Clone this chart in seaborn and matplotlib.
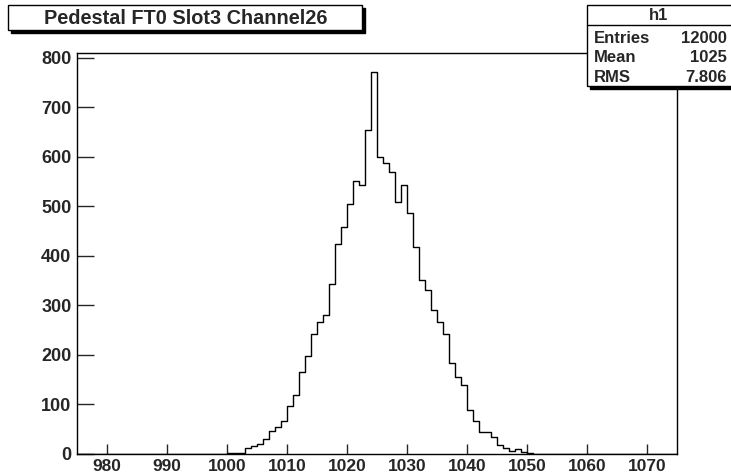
import numpy as np
import pandas as pd
import matplotlib
matplotlib.use("Agg")
import matplotlib.pyplot as plt
from matplotlib.patches import Rectangle
from matplotlib.ticker import MultipleLocator
import seaborn as sns

# pedestal histogram h1, 1 ADC count per bin
adc = list(range(996, 1051)) + [1057]
counts = [1, 0, 1, 1, 2, 3, 3, 13, 17, 20,
          30, 46, 55, 67, 96, 120, 166, 197, 242, 266,
          281, 344, 424, 459, 504, 551, 543, 654, 771, 599,
          587, 569, 508, 543, 486, 417, 351, 332, 291, 267,
          242, 184, 156, 139, 89, 66, 44, 44, 34, 18,
          12, 7, 11, 5, 2, 1]
x_lo, x_hi = 975, 1075
title = "Pedestal FT0 Slot3 Channel26"
stat_names = ["Entries", "Mean", "RMS"]
stat_values = ["12000", "1025", "7.806"]

df = pd.DataFrame({"adc": adc, "n": counts})

sns.set_style("white")
plt.rcParams["font.family"] = ["Liberation Sans", "DejaVu Sans"]
plt.rcParams["font.weight"] = "bold"

W, H = 731, 475
fig = plt.figure(figsize=(W / 100, H / 100), dpi=100)
ax = fig.add_axes([77 / W, 1 - 454 / H, 600 / W, (454 - 53) / H])

# bins must be a list here, seaborn compares it with "auto"
edges = list(range(x_lo, x_hi + 1))
sns.histplot(data=df, x="adc", weights="n", bins=edges,
             element="step", fill=False, color="black", linewidth=1.0, ax=ax)

ax.set_xlim(x_lo, x_hi)
ax.set_ylim(0, max(counts) * 1.05)
ax.set_xlabel("")
ax.set_ylabel("")
ax.xaxis.set_major_locator(MultipleLocator(10))
ax.xaxis.set_minor_locator(MultipleLocator(2))
ax.yaxis.set_major_locator(MultipleLocator(100))
ax.yaxis.set_minor_locator(MultipleLocator(20))
ax.tick_params(axis="x", which="major", direction="in", length=7.5, width=1, pad=3.5, labelsize=12.5)
ax.tick_params(axis="x", which="minor", direction="in", length=3.8, width=1)
ax.tick_params(axis="y", which="major", direction="in", length=12.5, width=1, pad=4, labelsize=13)
ax.tick_params(axis="y", which="minor", direction="in", length=6.5, width=1)
ax.tick_params(bottom=True, left=True, top=False, right=False)
for lab in ax.get_xticklabels() + ax.get_yticklabels():
    lab.set_fontweight("bold")
for s in ax.spines.values():
    s.set_visible(True)
    s.set_color("black")
    s.set_linewidth(1.0)


def px_box(x0, y0, x1, y1, shadow=3):
    # box given in pixel coords from the top-left, with a ROOT-like drop shadow
    fig.patches.append(Rectangle(((x0 + shadow) / W, 1 - (y1 + shadow) / H),
                                 (x1 - x0) / W, (y1 - y0) / H,
                                 transform=fig.transFigure, facecolor="black",
                                 edgecolor="black", zorder=5))
    fig.patches.append(Rectangle((x0 / W, 1 - y1 / H), (x1 - x0) / W, (y1 - y0) / H,
                                 transform=fig.transFigure, facecolor="white",
                                 edgecolor="black", linewidth=1.0, zorder=6))


# title box
px_box(8, 5, 362, 30)
fig.text(186 / W, 1 - 18 / H, title, ha="center", va="center",
         fontsize=14.3, fontweight="bold", zorder=7)

# stats box
px_box(587, 5, 733, 86)
fig.lines.append(plt.Line2D([587 / W, 1], [1 - 25 / H] * 2, transform=fig.transFigure,
                            color="black", linewidth=1.0, zorder=7))
fig.text(659 / W, 1 - 16 / H, "h1", ha="center", va="center",
         fontsize=12, fontweight="bold", zorder=7)
for i, (nm, val) in enumerate(zip(stat_names, stat_values)):
    yy = 1 - (38.5 + 19.5 * i) / H
    fig.text(594 / W, yy, nm, ha="left", va="center", fontsize=12,
             fontweight="bold", zorder=7)
    fig.text(727 / W, yy, val, ha="right", va="center", fontsize=12,
             fontweight="bold", zorder=7)

fig.savefig("out.png", dpi=100)
